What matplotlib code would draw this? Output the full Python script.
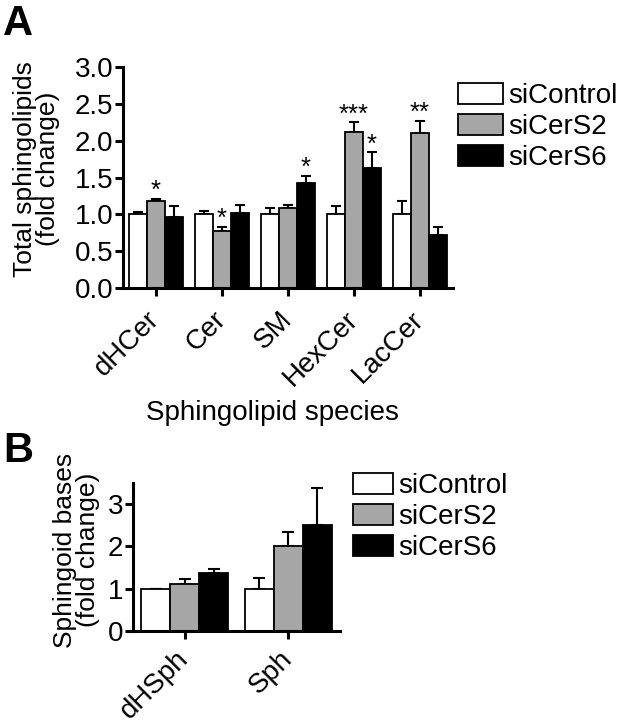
import matplotlib
matplotlib.use('Agg')
import matplotlib.pyplot as plt
import numpy as np

plt.rcParams['font.family'] = ['Liberation Sans', 'DejaVu Sans']

# panel A data
speciesA = ['dHCer', 'Cer', 'SM', 'HexCer', 'LacCer']
ctrlA = [1.00, 1.00, 1.00, 1.00, 1.00]
ctrlA_err = [0.03, 0.05, 0.09, 0.11, 0.18]
cers2A = [1.18, 0.77, 1.09, 2.12, 2.10]
cers2A_err = [0.03, 0.06, 0.04, 0.13, 0.17]
cers6A = [0.96, 1.02, 1.42, 1.63, 0.72]
cers6A_err = [0.15, 0.10, 0.10, 0.21, 0.11]
sig2A = ['*', '*', '', '***', '**']
sig6A = ['', '', '*', '*', '']

# panel B data
speciesB = ['dHSph', 'Sph']
ctrlB = [1.00, 1.00]
ctrlB_err = [0.0, 0.26]
cers2B = [1.12, 2.00]
cers2B_err = [0.12, 0.33]
cers6B = [1.36, 2.50]
cers6B_err = [0.10, 0.88]

labels = ['siControl', 'siCerS2', 'siCerS6']
colors = ['white', '#a6a6a6', 'black']

FS = 20      # horizontal text
FSY = 19     # axis titles (vertical)

fig = plt.figure(figsize=(6.22, 7.26), dpi=100)
axA = fig.add_axes([0.1977, 0.6033, 0.5305, 0.3044])
axB = fig.add_axes([0.2138, 0.1309, 0.3328, 0.2039])


def draw(ax, cats, series, errs, width, capsize, xpad):
    x = np.arange(len(cats))
    for i in range(3):
        pos = x + (i - 1) * width
        ax.bar(pos, series[i], width, color=colors[i], edgecolor='black',
               linewidth=1.3, label=labels[i], zorder=2)
        ax.errorbar(pos, series[i], yerr=[np.zeros(len(cats)), errs[i]], fmt='none',
                    ecolor='black', elinewidth=1.5, capsize=capsize, capthick=1.5, zorder=1)
    for s in ['top', 'right']:
        ax.spines[s].set_visible(False)
    for s in ['left', 'bottom']:
        ax.spines[s].set_linewidth(2.2)
    ax.set_xticks(x)
    ax.set_xticklabels(cats, rotation=45, ha='right', va='center',
                       rotation_mode='anchor', fontsize=FS)
    ax.tick_params(axis='both', width=2.2, length=6, labelsize=FS)
    ax.tick_params(axis='x', pad=xpad)
    ax.tick_params(axis='y', pad=1)
    ax.set_xlim(-0.5, len(cats) - 0.5)
    return x


xA = draw(axA, speciesA, [ctrlA, cers2A, cers6A], [ctrlA_err, cers2A_err, cers6A_err], 0.27, 3.5, 14)
axA.set_ylim(0, 3.0)
axA.set_yticks(np.arange(0, 3.01, 0.5))
axA.set_yticklabels(['%.1f' % v for v in np.arange(0, 3.01, 0.5)])
axA.set_ylabel('Total sphingolipids\n(fold change)', fontsize=FSY, linespacing=0.95)
axA.yaxis.set_label_coords(-0.19, 0.54)
axA.set_xlabel('Sphingolipid species', fontsize=FS)
axA.xaxis.set_label_coords(0.452, -0.505)

for i in range(len(speciesA)):
    if sig2A[i]:
        axA.annotate(sig2A[i], (xA[i], cers2A[i] + cers2A_err[i]), xytext=(0, -3),
                     textcoords='offset points', ha='center', va='bottom', fontsize=18.5)
    if sig6A[i]:
        axA.annotate(sig6A[i], (xA[i] + 0.27, cers6A[i] + cers6A_err[i]), xytext=(0, -3),
                     textcoords='offset points', ha='center', va='bottom', fontsize=18.5)

axA.legend(loc='upper left', bbox_to_anchor=(0.7363, 0.8857), bbox_transform=fig.transFigure,
           frameon=False, fontsize=FS, handlelength=1.62, handleheight=0.76,
           labelspacing=0.18, handletextpad=0.18, borderpad=0, borderaxespad=0)

draw(axB, speciesB, [ctrlB, cers2B, cers6B], [ctrlB_err, cers2B_err, cers6B_err], 0.28, 4.5, 11)
axB.set_ylim(0, 3.5)
axB.set_yticks([0, 1, 2, 3])
axB.set_ylabel('Sphingoid bases\n(fold change)', fontsize=FSY, linespacing=0.95)
axB.yaxis.set_label_coords(-0.159, 0.547)
axB.legend(loc='upper left', bbox_to_anchor=(0.5675, 0.3485), bbox_transform=fig.transFigure,
           frameon=False, fontsize=FS, handlelength=1.44, handleheight=0.76,
           labelspacing=0.18, handletextpad=0.18, borderpad=0, borderaxespad=0)

fig.text(0.005, 0.995, 'A', fontsize=30, fontweight='bold', va='top', ha='left')
fig.text(0.005, 0.407, 'B', fontsize=30, fontweight='bold', va='top', ha='left')

fig.savefig('out.png', dpi=100)
